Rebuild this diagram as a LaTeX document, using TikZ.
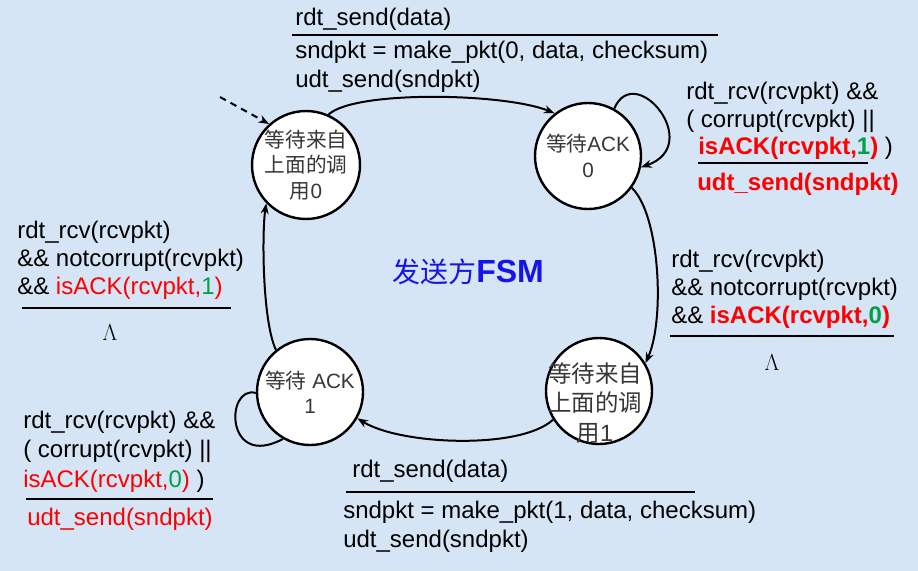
\documentclass[tikz,border=0pt]{standalone}
\usepackage{fontspec}
\setmainfont{Liberation Sans}
\newfontfamily\cjk{Noto Sans CJK SC}
\usepackage{xcolor}
\usepackage{amsmath}
\usetikzlibrary{arrows.meta}

\definecolor{bgblue}{RGB}{214,229,245}
\definecolor{actred}{RGB}{255,0,0}
\definecolor{seqgreen}{RGB}{0,160,70}
\definecolor{fsmblue}{RGB}{20,20,235}
\definecolor{statetext}{RGB}{55,55,55}

\begin{document}
\begin{tikzpicture}[x=0.75pt,y=0.75pt,yscale=-1,xscale=1,
    state/.style={circle,draw,line width=1.8pt,fill=white,minimum size=79.5pt,inner sep=0pt,align=center,text=statetext,font=\fontsize{15.5}{19}\selectfont},
    trans/.style={line width=1.5pt,-{Stealth[length=8pt,width=6pt]}},
    cond/.style={anchor=base west,inner sep=0pt,align=left,font=\fontsize{18}{21.75}\selectfont},
    rule/.style={line width=2.2pt},
    lam/.style={inner sep=0pt,font=\fontsize{16}{18}\selectfont}]
            %background, 918 x 571
            \fill[bgblue] (0,0) rectangle (918,571);
            \useasboundingbox (0,0) rectangle (918,571);

            %States
            \node[state] (s0) at (306,165) {{\cjk 等待来自}\\{\cjk 上面的调}\\{\cjk 用}0};
            \node[state] (s1) at (588,156) {{\cjk 等待}ACK\\0};
            \node[state] (s2) at (599,391) {};
            \node[align=center,inner sep=0pt,text=statetext,font=\fontsize{17.6}{22}\selectfont] (s2txt) at (595,403) {{\cjk 等待来自}\\{\cjk 上面的调}\\{\cjk 用}1};
            \node[state] (s3) at (310,392) {{\cjk 等待} ACK\\1};

            %Initial arrow
            \coordinate (init) at (220,97);
            \draw[trans,dash pattern={on 5pt off 4pt}] (init) -- (s0.132);
            %Curve Lines
            \draw[trans] (s0.66) .. controls (355,90) and (505,93) .. (s1.128);
            \draw[trans] (s1.61) .. controls (635,60) and (705,145) .. (s1.-12);
            \draw[trans] (s1.-36) .. controls (660,215) and (665,320) .. (s2.31);
            \draw[trans] (s2.212) .. controls (520,450) and (400,445) .. (s3.-29);
            \draw[line width=1.5pt] (s3.181) .. controls (225,385) and (225,470) .. (s3.240);
            \draw[trans] (s3.129) .. controls (262,320) and (262,230) .. (s0.224);

            % Text Node: top (base = last line)
            \node[cond] (t0ev) at (295,26) {rdt\_send(data)};
            \draw[rule] (292,35) -- (718,35);
            \node[cond] (t0act) at (295,87) {sndpkt = make\_pkt(0, data, checksum)\\udt\_send(sndpkt)};

            % Text Node: loop on ACK 0
            \node[cond,font=\fontsize{18}{21}\selectfont] (l1ev) at (686,127) {rdt\_rcv(rcvpkt) \&\&\\( corrupt(rcvpkt) ||};
            \node[cond] (l1ack) at (698,154) {\textbf{\textcolor{actred}{isACK(rcvpkt,\textcolor{seqgreen}{1})}} )};
            \draw[rule] (698,163) -- (868,163);
            \node[cond] (l1act) at (697,190) {\textbf{\textcolor{actred}{udt\_send(sndpkt)}}};

            % Text Node: ACK 0 to call 1
            \node[cond,font=\fontsize{18}{21}\selectfont] (t1ev) at (671,323) {rdt\_rcv(rcvpkt)\\\&\& notcorrupt(rcvpkt)\\\&\& \textbf{\textcolor{actred}{isACK(rcvpkt,\textcolor{seqgreen}{0})}}};
            \draw[rule] (670,336) -- (894,336);
            \node[lam] (t1act) at (772,363) {$\Lambda$};

            % Text Node: bottom
            \node[cond] (t2ev) at (352,477) {rdt\_send(data)};
            \draw[rule] (346,492) -- (695,492);
            \node[cond] (t2act) at (343,547) {sndpkt = make\_pkt(1, data, checksum)\\udt\_send(sndpkt)};

            % Text Node: loop on ACK 1
            \node[cond,font=\fontsize{18}{22}\selectfont] (l3ev) at (23,487) {rdt\_rcv(rcvpkt) \&\&\\( corrupt(rcvpkt) ||\\\textcolor{actred}{isACK(rcvpkt,\textcolor{seqgreen}{0})} )};
            \draw[rule] (26,499) -- (213,499);
            \node[cond] (l3act) at (27,525) {\textcolor{actred}{udt\_send(sndpkt)}};

            % Text Node: ACK 1 to call 0
            \node[cond,font=\fontsize{18}{21}\selectfont] (t3ev) at (17,294) {rdt\_rcv(rcvpkt)\\\&\& notcorrupt(rcvpkt)\\\&\& \textcolor{actred}{isACK(rcvpkt,\textcolor{seqgreen}{1})}};
            \draw[rule] (22,308) -- (231,308);
            \node[lam] (t3act) at (110,333) {$\Lambda$};

            % Text Node: title
            \node[anchor=base west,inner sep=0pt,text=fsmblue,font=\fontsize{21}{24}\selectfont] (title) at (392,282) {{\cjk 发送方}{\fontsize{24}{26}\selectfont\bfseries FSM}};
\end{tikzpicture}
\end{document}
